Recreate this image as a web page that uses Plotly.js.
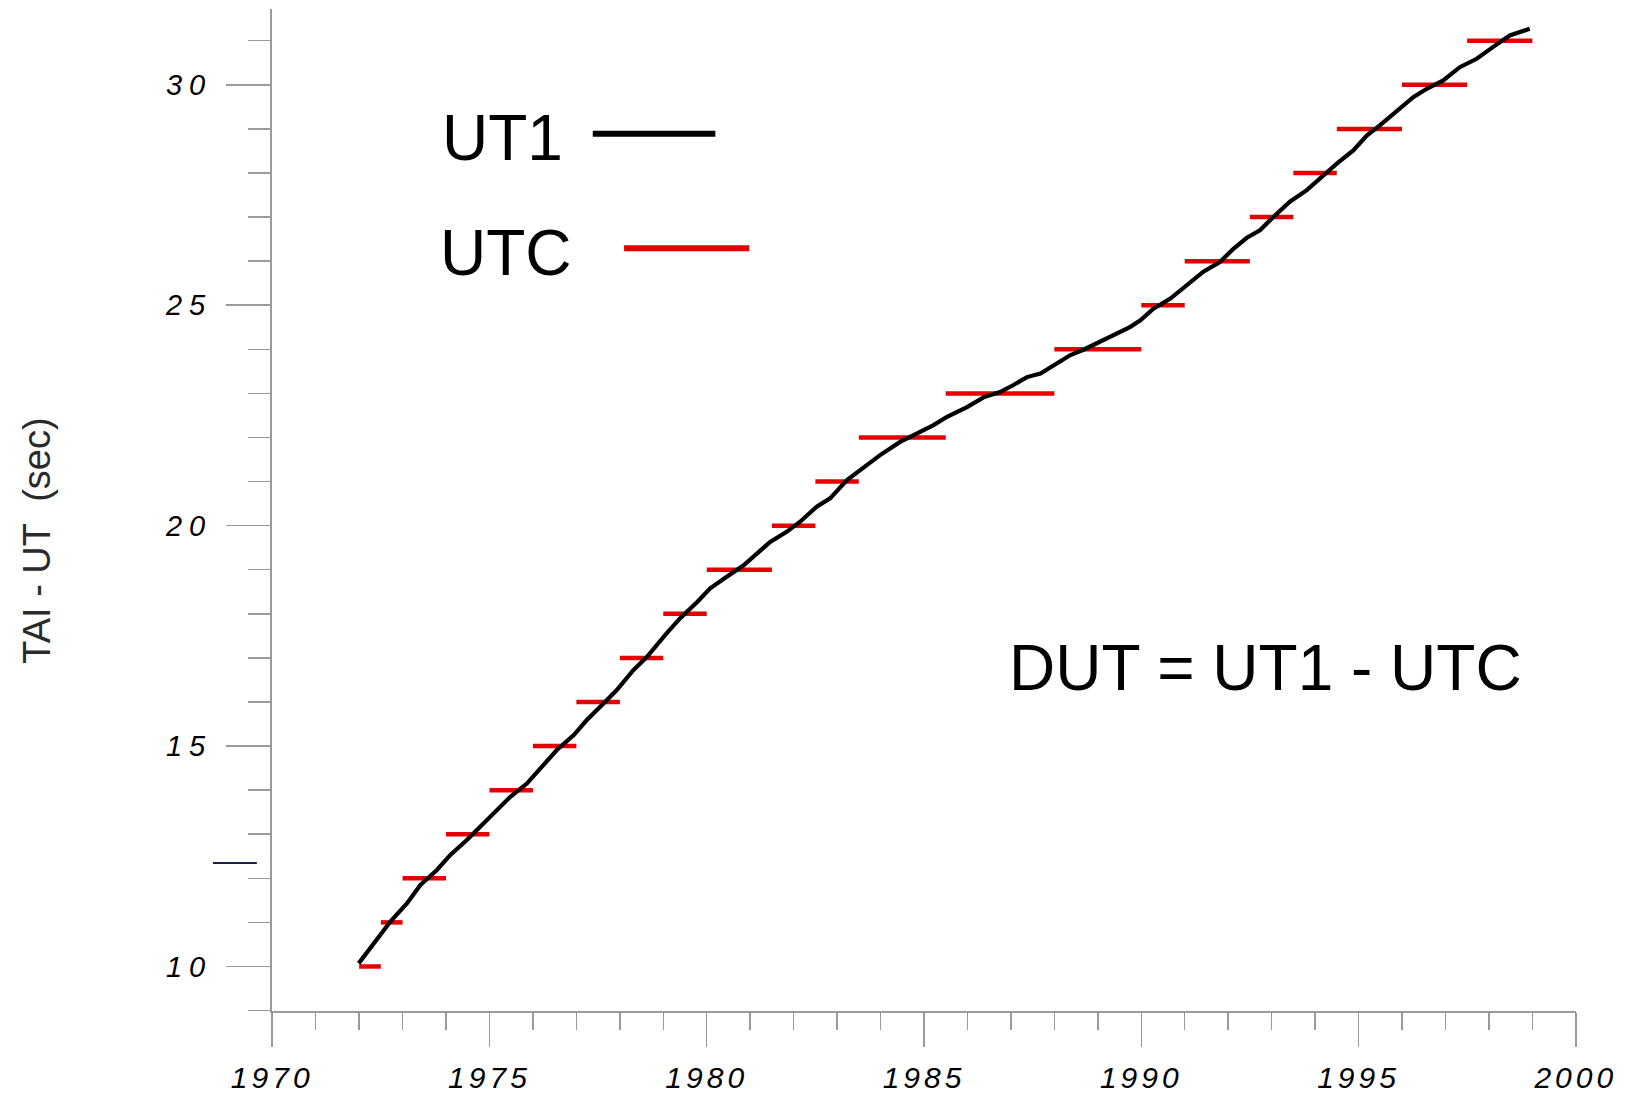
<!DOCTYPE html>
<html>
<head>
<meta charset="utf-8">
<script src="https://cdn.plot.ly/plotly-3.0.1.min.js"></script>
<style>
  html, body { margin: 0; padding: 0; background: #fff; }
  #chart { width: 1630px; height: 1096px; }
  .xtick text { letter-spacing: 4px; }
  .ytick text { letter-spacing: 7px; }
</style>
</head>
<body>
<div id="chart"></div>
<script>
// UT1 curve (TAI - UT1, seconds)
const ut1Years = [1971.99,1972.33,1972.72,1973.10,1973.41,1973.79,1974.10,1974.48,1974.79,1975.17,
  1975.48,1975.86,1976.17,1976.55,1976.94,1977.24,1977.63,1977.93,1978.31,1978.62,
  1979.08,1979.39,1979.78,1980.08,1980.46,1980.85,1981.16,1981.46,1981.84,1982.15,
  1982.53,1982.84,1983.22,1983.53,1983.99,1984.45,1984.84,1985.22,1985.53,1985.99,
  1986.37,1986.75,1987.06,1987.37,1987.68,1987.98,1988.37,1988.67,1989.06,1989.44,
  1989.75,1989.98,1990.28,1990.67,1991.05,1991.43,1991.81,1992.12,1992.43,1992.73,
  1993.04,1993.42,1993.81,1994.19,1994.50,1994.88,1995.19,1995.49,1995.88,1996.26,
  1996.57,1996.95,1997.33,1997.72,1998.10,1998.48,1998.94];
const ut1Values = [10.07,10.53,11.02,11.43,11.85,12.19,12.53,12.87,13.17,13.55,
  13.85,14.15,14.49,14.91,15.25,15.59,15.97,16.27,16.72,17.02,
  17.56,17.90,18.27,18.58,18.84,19.10,19.37,19.63,19.86,20.09,
  20.43,20.62,21.03,21.26,21.60,21.90,22.09,22.28,22.47,22.69,
  22.91,23.03,23.19,23.37,23.45,23.64,23.87,23.99,24.17,24.37,
  24.51,24.66,24.92,25.15,25.45,25.76,25.98,26.28,26.53,26.70,
  27.00,27.35,27.61,27.95,28.21,28.51,28.85,29.08,29.42,29.72,
  29.91,30.10,30.40,30.59,30.86,31.12,31.27];

// UTC steps (TAI - UTC): start, end, value
const utcStart = [1972.0,1972.5,1973.0,1974.0,1975.0,1976.0,1977.0,1978.0,1979.0,1980.0,1981.5,1982.5,
  1983.5,1985.5,1988.0,1990.0,1991.0,1992.5,1993.5,1994.5,1996.0,1997.5];
const utcEnd = [1972.5,1973.0,1974.0,1975.0,1976.0,1977.0,1978.0,1979.0,1980.0,1981.5,1982.5,1983.5,
  1985.5,1988.0,1990.0,1991.0,1992.5,1993.5,1994.5,1996.0,1997.5,1999.0];
const utcValues = [10,11,12,13,14,15,16,17,18,19,20,21,22,23,24,25,26,27,28,29,30,31];

// Axis ticks
const xTickVals = [1970,1975,1980,1985,1990,1995,2000];
const xTickText = ['1970','1975','1980','1985','1990','1995','2000'];
const yTickVals = [10,15,20,25,30];
const yTickText = ['10','15','20','25','30'];

// Text
const yTitle = 'TAI - UT\u00A0 (sec)';
const ut1Label = 'UT1';
const utcLabel = 'UTC';
const dutLabel = 'DUT = UT1 - UTC';

const utcX = [], utcY = [];
for (let i = 0; i < utcValues.length; i++) {
  utcX.push(utcStart[i], utcEnd[i], null);
  utcY.push(utcValues[i], utcValues[i], null);
}

const traces = [
  { x: utcX, y: utcY, mode: 'lines', line: { color: '#e60000', width: 4.5 },
    connectgaps: false, hoverinfo: 'skip', showlegend: false },
  { x: ut1Years, y: ut1Values, mode: 'lines', line: { color: '#000', width: 4.2 },
    hoverinfo: 'skip', showlegend: false }
];

const axisColor = '#9a9a9a';
const tickFontX = { family: "'Liberation Sans', Arial, sans-serif", size: 30, color: '#000', style: 'italic' };
const tickFontY = { family: "'Liberation Sans', Arial, sans-serif", size: 29, color: '#000', style: 'italic' };
const bigFont = { family: "'Liberation Sans', Arial, sans-serif", size: 64, color: '#000' };
const titleFont = { family: "'Liberation Sans Narrow', 'Arial Narrow', 'Liberation Sans', sans-serif", size: 38, color: '#2a2a2a' };

const layout = {
  width: 1630, height: 1096,
  paper_bgcolor: '#fff', plot_bgcolor: '#fff',
  margin: { l: 272, r: 54, t: 9, b: 85 },
  showlegend: false,
  xaxis: {
    range: [1969.995, 2000.005],
    showgrid: false, zeroline: false,
    showline: true, linecolor: axisColor, linewidth: 2,
    ticks: 'outside', ticklen: 34, tickcolor: axisColor, tickwidth: 1.5,
    tickmode: 'array', tickvals: xTickVals, ticktext: xTickText,
    tickfont: tickFontX, ticklabelstandoff: 5,
    minor: { dtick: 1, tick0: 1970, ticks: 'outside', ticklen: 17, tickcolor: axisColor, tickwidth: 1.5, showgrid: false }
  },
  yaxis: {
    range: [8.99, 31.72],
    showgrid: false, zeroline: false,
    showline: true, linecolor: axisColor, linewidth: 2,
    ticks: 'outside', ticklen: 44, tickcolor: axisColor, tickwidth: 1.5,
    tickmode: 'array', tickvals: yTickVals, ticktext: yTickText,
    tickfont: tickFontY, ticklabelstandoff: 8,
    minor: { dtick: 1, tick0: 9, ticks: 'outside', ticklen: 22, tickcolor: axisColor, tickwidth: 1.5, showgrid: false }
  },
  shapes: [
    // legend sample lines
    { type: 'line', xref: 'paper', yref: 'paper', x0: 0.246, x1: 0.340, y0: 0.8755, y1: 0.8755,
      line: { color: '#000', width: 6 } },
    { type: 'line', xref: 'paper', yref: 'paper', x0: 0.270, x1: 0.366, y0: 0.7612, y1: 0.7612,
      line: { color: '#e60000', width: 6 } },
    // stray dark mark left of the y axis
    { type: 'line', xref: 'paper', yref: 'y', x0: -0.0453, x1: -0.0116, y0: 12.35, y1: 12.35,
      line: { color: '#1c1c4a', width: 2 } }
  ],
  annotations: [
    { text: ut1Label, xref: 'paper', yref: 'paper', x: 0.1768, y: 0.8712, xanchor: 'center', yanchor: 'middle',
      showarrow: false, font: bigFont },
    { text: utcLabel, xref: 'paper', yref: 'paper', x: 0.1796, y: 0.7566, xanchor: 'center', yanchor: 'middle',
      showarrow: false, font: bigFont },
    { text: dutLabel, xref: 'paper', yref: 'paper', x: 0.762, y: 0.3423, xanchor: 'center', yanchor: 'middle',
      showarrow: false, font: bigFont },
    { text: yTitle, xref: 'paper', yref: 'paper', x: -0.1805, y: 0.469, xanchor: 'center', yanchor: 'middle',
      textangle: -90, showarrow: false, font: titleFont }
  ]
};

Plotly.newPlot('chart', traces, layout, { staticPlot: true, displayModeBar: false });
</script>
</body>
</html>
